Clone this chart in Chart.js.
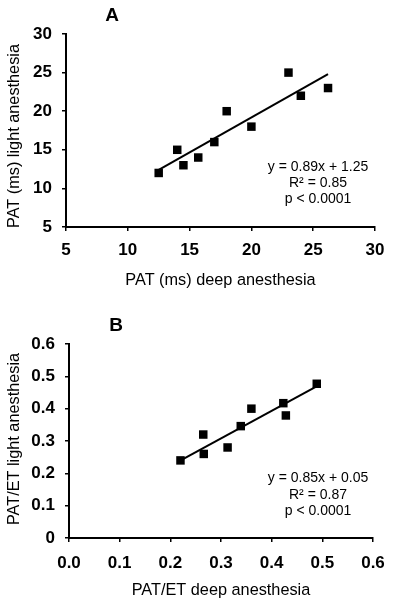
<!DOCTYPE html>
<html>
<head>
<meta charset="utf-8">
<script src="https://cdn.jsdelivr.net/npm/chart.js@4"></script>
<style>
  html, body { margin: 0; padding: 0; background: #fff; }
  #wrap { position: relative; width: 400px; height: 604px; }
  canvas { position: absolute; left: 0; }
  #panelA { top: 0; }
  #panelB { top: 302px; }
</style>
</head>
<body>
<div id="wrap">
  <canvas id="panelA" width="400" height="302"></canvas>
  <canvas id="panelB" width="400" height="302"></canvas>
</div>
<script>
// panel A: PAT (ms)
const patDeep = [12.5, 14.0, 14.5, 15.7, 17.0, 18.0, 20.0, 23.0, 24.0, 26.2];
const patLight = [12, 15, 13, 14, 16, 20, 18, 25, 22, 23];
const patFitX = [12.5, 26.2];
const patFitY = [12.4, 24.8];
const patTicks = ['5', '10', '15', '20', '25', '30'];
const patStats = ['y = 0.89x + 1.25', 'R\u00b2 = 0.85', 'p < 0.0001'];

// panel B: PAT/ET
const ratioDeep = [0.22, 0.265, 0.266, 0.313, 0.339, 0.36, 0.423, 0.428, 0.489];
const ratioLight = [0.24, 0.32, 0.26, 0.28, 0.346, 0.40, 0.417, 0.379, 0.477];
const ratioFitX = [0.224, 0.486];
const ratioFitY = [0.243, 0.467];
const ratioXTicks = ['0.0', '0.1', '0.2', '0.3', '0.4', '0.5', '0.6'];
const ratioYTicks = ['0', '0.1', '0.2', '0.3', '0.4', '0.5', '0.6'];
const ratioStats = ['y = 0.85x + 0.05', 'R\u00b2 = 0.87', 'p < 0.0001'];

const FONT = "'Liberation Sans', Arial, sans-serif";

function toPoints(xs, ys) {
  return xs.map((x, i) => ({ x: x, y: ys[i] }));
}

// panel letter, y axis title and the regression text
const textPlugin = {
  id: 'panelText',
  afterDraw(chart, args, opts) {
    const ctx = chart.ctx;
    ctx.save();
    ctx.fillStyle = '#000';
    ctx.textAlign = 'center';
    ctx.textBaseline = 'middle';
    ctx.font = 'bold 19px ' + FONT;
    ctx.fillText(opts.letter, opts.letterX, opts.letterY);
    ctx.font = '14px ' + FONT;
    opts.lines.forEach((t, i) => {
      ctx.fillText(t, opts.textX, opts.textY + i * opts.lineGap);
    });
    ctx.translate(15, opts.yTitleY);
    ctx.rotate(-Math.PI / 2);
    ctx.font = '16.3px ' + FONT;
    ctx.fillText(opts.yTitle, 0, 0);
    ctx.restore();
  }
};

function makePanel(id, p) {
  const axisStyle = {
    border: { display: true, color: '#000', width: 2 },
    grid: { drawOnChartArea: false, drawTicks: true, tickLength: 4, tickColor: '#000', lineWidth: 1.5 }
  };
  new Chart(document.getElementById(id), {
    data: {
      datasets: [
        {
          type: 'scatter',
          data: toPoints(p.xs, p.ys),
          pointStyle: 'rect',
          pointRadius: 6,
          backgroundColor: '#000',
          borderColor: '#000',
          borderWidth: 0
        },
        {
          type: 'line',
          data: toPoints(p.fitX, p.fitY),
          borderColor: '#000',
          borderWidth: 2,
          pointRadius: 0,
          fill: false
        }
      ]
    },
    options: {
      responsive: false,
      animation: false,
      devicePixelRatio: 1,
      layout: { padding: { left: 0, right: p.padRight, top: p.padTop, bottom: 0 } },
      plugins: {
        legend: { display: false },
        tooltip: { enabled: false },
        panelText: p.text
      },
      scales: {
        x: {
          type: 'linear',
          min: p.xMin, max: p.xMax,
          ...axisStyle,
          ticks: {
            stepSize: p.xStep, padding: p.xTickPad, color: '#000',
            font: { family: FONT, size: 17, weight: 'bold' },
            callback: (v, i) => p.xLabels[i]
          },
          title: {
            display: true, text: p.xTitle, color: '#000',
            font: { family: FONT, size: 16.3 },
            padding: { top: 0, bottom: p.xTitlePad }
          },
          afterFit: (s) => { s.height = p.xHeight; }
        },
        y: {
          type: 'linear',
          min: p.yMin, max: p.yMax,
          ...axisStyle,
          ticks: {
            stepSize: p.yStep, padding: 10, color: '#000',
            font: { family: FONT, size: 17, weight: 'bold' },
            callback: (v, i) => p.yLabels[i]
          },
          afterFit: (s) => { s.width = p.yWidth; }
        }
      }
    },
    plugins: [textPlugin]
  });
}

makePanel('panelA', {
  xs: patDeep, ys: patLight, fitX: patFitX, fitY: patFitY,
  xMin: 5, xMax: 30, xStep: 5, yMin: 5, yMax: 30, yStep: 5,
  xLabels: patTicks, yLabels: patTicks,
  xTitle: 'PAT (ms) deep anesthesia',
  padRight: 25, padTop: 34, yWidth: 66, xHeight: 75, xTitlePad: 12, xTickPad: 9,
  text: {
    letter: 'A', letterX: 112, letterY: 16, lines: patStats, textX: 318, textY: 167, lineGap: 16.3,
    yTitle: 'PAT (ms) light anesthesia', yTitleY: 136
  }
});

makePanel('panelB', {
  xs: ratioDeep, ys: ratioLight, fitX: ratioFitX, fitY: ratioFitY,
  xMin: 0, xMax: 0.6, xStep: 0.1, yMin: 0, yMax: 0.6, yStep: 0.1,
  xLabels: ratioXTicks, yLabels: ratioYTicks,
  xTitle: 'PAT/ET deep anesthesia',
  padRight: 27, padTop: 42, yWidth: 69, xHeight: 66, xTitlePad: 4, xTickPad: 11,
  text: {
    letter: 'B', letterX: 116, letterY: 24, lines: ratioStats, textX: 318, textY: 176, lineGap: 16.7,
    yTitle: 'PAT/ET light anesthesia', yTitleY: 137
  }
});
</script>
</body>
</html>
